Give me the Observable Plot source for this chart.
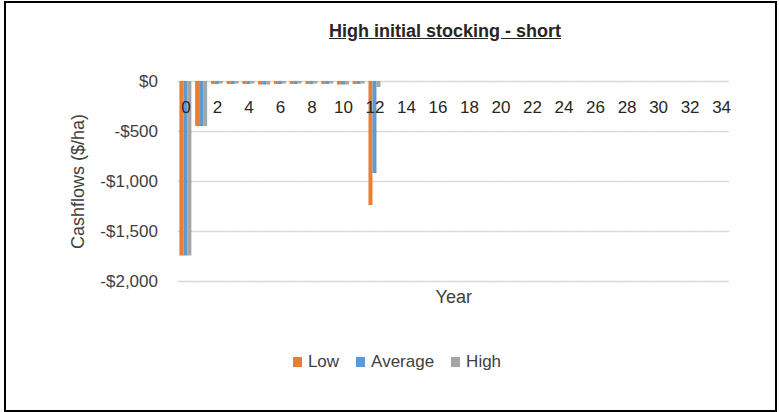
<!DOCTYPE html>
<html>
<head>
<meta charset="utf-8">
<script src="https://cdn.jsdelivr.net/npm/d3@7"></script>
<script src="https://cdn.jsdelivr.net/npm/@observablehq/plot@0.6"></script>
<style>
  html, body { margin: 0; padding: 0; background: #fff; }
  body { width: 779px; height: 412px; position: relative; overflow: hidden; font-family: "Liberation Sans", Arial, sans-serif; }
  #frame { position: absolute; left: 4px; top: 1px; width: 769px; height: 407px; border: 2px solid #000; }
  #title { position: absolute; left: 0; width: 890px; top: 21px; text-align: center; font-weight: bold; font-size: 18px; color: #262626; text-decoration: underline; }
  #chart { position: absolute; left: 0; top: 50px; }
  #legend { position: absolute; left: 0; width: 794px; top: 352px; display: flex; justify-content: center; gap: 17px; font-size: 17px; color: #404040; }
  #legend span.item { display: flex; align-items: center; }
  #legend span.sw { display: inline-block; width: 9px; height: 10px; margin-right: 6px; }
</style>
</head>
<body>
<div id="frame"></div>
<div id="title">High initial stocking - short</div>
<div id="chart"></div>
<div id="legend"></div>
<script>
const years = [0,1,2,3,4,5,6,7,8,9,10,11,12,13,14,15,16,17,18,19,20,21,22,23,24,25,26,27,28,29,30,31,32,33,34];
const seriesNames = ["Low", "Average", "High"];
const seriesColors = ["#ED7D31", "#5B9BD5", "#A5A5A5"];
const low     = [-1745,-450,-30,-30,-30,-35,-30,-30,-30,-30,-35,-30,-1240,0,0,0,0,0,0,0,0,0,0,0,0,0,0,0,0,0,0,0,0,0,0];
const average = [-1745,-450,-30,-30,-30,-35,-30,-30,-30,-30,-35,-30,-920,0,0,0,0,0,0,0,0,0,0,0,0,0,0,0,0,0,0,0,0,0,0];
const high    = [-1745,-450,-25,-25,-25,-35,-25,-25,-25,-25,-35,-25,-60,0,0,0,0,0,0,0,0,0,0,0,0,0,0,0,0,0,0,0,0,0,0];
const yTicks = [0, -500, -1000, -1500, -2000];
const xTickLabels = [0,2,4,6,8,10,12,14,16,18,20,22,24,26,28,30,32,34];

const valuesBySeries = [low, average, high];
const data = [];
years.forEach((yr, i) => {
  seriesNames.forEach((s, j) => data.push({year: yr, series: s, value: valuesBySeries[j][i]}));
});

const fmt = d => d === 0 ? "$0" : "-$" + d3.format(",")(-d);
const font = "Liberation Sans, Arial, sans-serif";

const chart = Plot.plot({
  width: 779,
  height: 270,
  marginLeft: 177.5,
  marginRight: 50,
  marginTop: 31,
  marginBottom: 39,
  style: {fontFamily: font, fontSize: "17px", color: "#404040", background: "transparent"},
  fx: {domain: years, padding: 0, round: false, axis: null},
  x: {domain: seriesNames, paddingInner: 0, paddingOuter: 0.47, round: false, axis: null},
  y: {domain: [-2000, 0], axis: null},
  color: {domain: seriesNames, range: seriesColors},
  marks: [
    Plot.gridY(yTicks, {stroke: "#d9d9d9", strokeOpacity: 1, strokeWidth: 1.5}),
    Plot.axisY(yTicks, {label: null, tickSize: 0, tickPadding: 18, dx: -2, tickFormat: fmt, fontSize: 17, fill: "#404040"}),
    Plot.barY(data, {fx: "year", x: "series", y: "value", fill: "series"}),
    Plot.text(xTickLabels, {fx: d => d, y: () => 0, text: d => String(d), dy: 26, lineAnchor: "middle", fontSize: 17, fill: "#262626"}),
    Plot.text(["Cashflows ($/ha)"], {fx: () => 0, frameAnchor: "left", textAnchor: "middle", rotate: -90, dx: -100, fontSize: 18, fill: "#404040", lineAnchor: "middle"}),
    Plot.text(["Year"], {fx: () => 17, frameAnchor: "bottom", dy: 16, lineAnchor: "middle", fontSize: 18, fill: "#404040"})
  ]
});
document.getElementById("chart").appendChild(chart);

const legend = document.getElementById("legend");
seriesNames.forEach((s, i) => {
  const item = document.createElement("span");
  item.className = "item";
  const sw = document.createElement("span");
  sw.className = "sw";
  sw.style.background = seriesColors[i];
  item.appendChild(sw);
  item.appendChild(document.createTextNode(s));
  legend.appendChild(item);
});
</script>
</body>
</html>
